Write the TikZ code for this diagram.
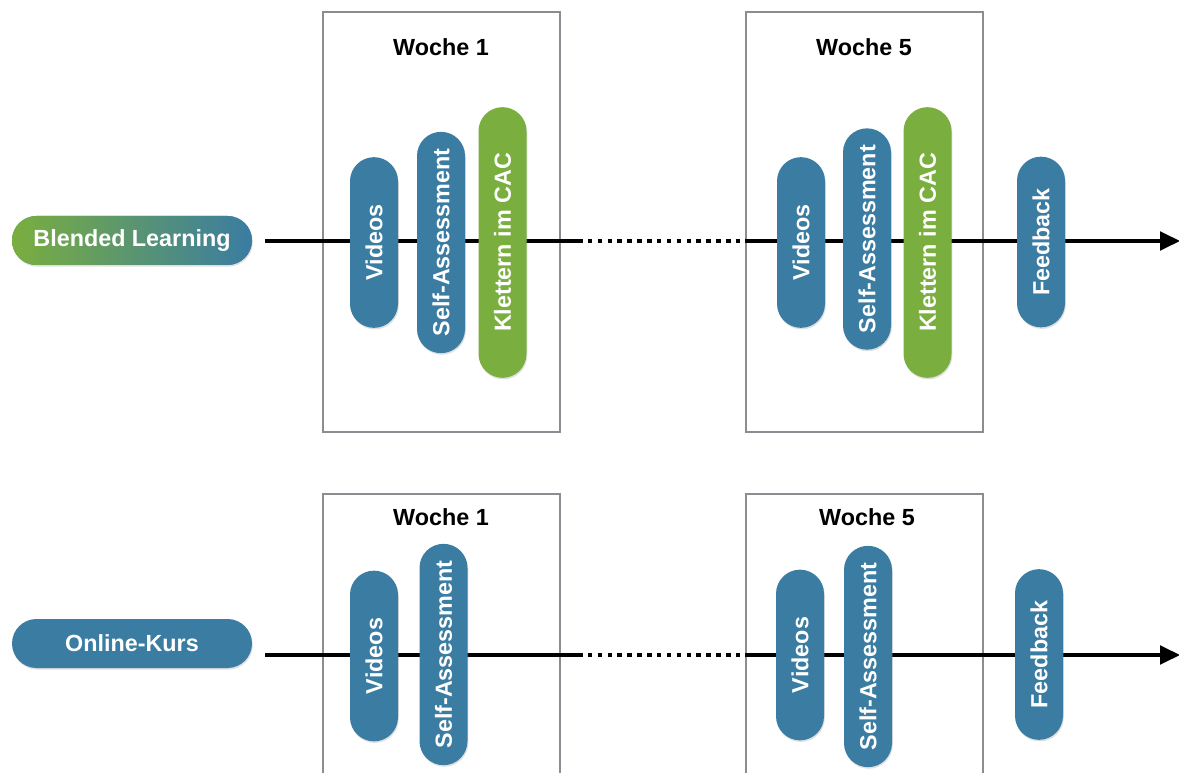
\documentclass[tikz,border=0pt]{standalone}
\usepackage{fontspec}
\setmainfont{Liberation Sans}
\usetikzlibrary{arrows.meta, positioning, shapes.misc, shadows}

\definecolor{kursblau}{RGB}{58,124,162}
\definecolor{kursgruen}{RGB}{122,174,62}
\definecolor{rahmen}{RGB}{140,140,146}

\tikzset{
	pill/.style = {rounded rectangle, fill=kursblau, text=white, inner sep=0pt,
		font=\fontsize{17.5}{20}\selectfont\bfseries, minimum height=36pt,
		drop shadow={opacity=0.25, shadow xshift=0.6pt, shadow yshift=-1.2pt}},
	activity/.style = {pill, rotate=90, minimum width=#1},
	kurs/.style = {pill, minimum width=180pt, minimum height=36.75pt},
	weekbox/.style = {draw=rahmen, line width=1.5pt, minimum width=177.75pt, minimum height=315pt},
	weektitle/.style = {font=\fontsize{17.5}{20}\selectfont\bfseries},
	timeline/.style = {line width=2.5pt},
	gap/.style = {timeline, dash pattern=on 3.4pt off 4pt},
}

\begin{document}
\begin{tikzpicture}[x=0.75pt, y=-0.75pt]
	\clip (0,0) rectangle (1179,773);

	% Blended Learning
	\node (w1a) [weekbox] at (441.5,222) {};
	\node (w5a) [weekbox] at (864,222) {};
	\node (t1a) [weektitle] at (441,47) {Woche 1};
	\node (t5a) [weektitle] at (864,47) {Woche 5};
	\node (bl) [kurs, left color=kursgruen, right color=kursblau] at (132,240.5) {Blended Learning};

	\coordinate (ga1) at (578,241);
	\coordinate (ga2) at (745,241);
	\coordinate (enda) at (1180,241);
	\draw [timeline, shorten <=9.75pt] (bl.east |- ga1) -- (ga1);
	\draw [gap] (ga1) -- (ga2);
	\draw [timeline, -{Triangle[length=15pt,width=14pt]}] (ga2) -- (enda);

	\node (v1a) [activity=128pt] at (374,242.5) {Videos};
	\node (s1a) [activity=166pt] at (441,242.5) {Self-Assessment};
	\node (k1a) [activity=203pt, fill=kursgruen] at (502.5,242.5) {Klettern im CAC};
	\node (v5a) [activity=128pt] at (801,242.5) {Videos};
	\node (s5a) [activity=166pt] at (867,239) {Self-Assessment};
	\node (k5a) [activity=203pt, fill=kursgruen] at (927.5,242.5) {Klettern im CAC};
	\node (fba) [activity=128pt] at (1041,242) {Feedback};

	% Online-Kurs
	\node (w1b) [weekbox] at (441.5,704) {};
	\node (w5b) [weekbox] at (864,704) {};
	\node (t1b) [weektitle] at (441,517) {Woche 1};
	\node (t5b) [weektitle] at (867,517) {Woche 5};
	\node (ok) [kurs] at (132,643.5) {Online-Kurs};

	\coordinate (gb1) at (578,655);
	\coordinate (gb2) at (745,655);
	\coordinate (endb) at (1180,655);
	\draw [timeline, shorten <=9.75pt] (ok.east |- gb1) -- (gb1);
	\draw [gap] (gb1) -- (gb2);
	\draw [timeline, -{Triangle[length=15pt,width=14pt]}] (gb2) -- (endb);

	\node (v1b) [activity=128pt] at (374,656) {Videos};
	\node (s1b) [activity=166pt] at (443.5,654.5) {Self-Assessment};
	\node (v5b) [activity=128pt] at (800,655) {Videos};
	\node (s5b) [activity=166pt] at (868,656.5) {Self-Assessment};
	\node (fbb) [activity=128pt] at (1039,654.5) {Feedback};
\end{tikzpicture}
\end{document}
